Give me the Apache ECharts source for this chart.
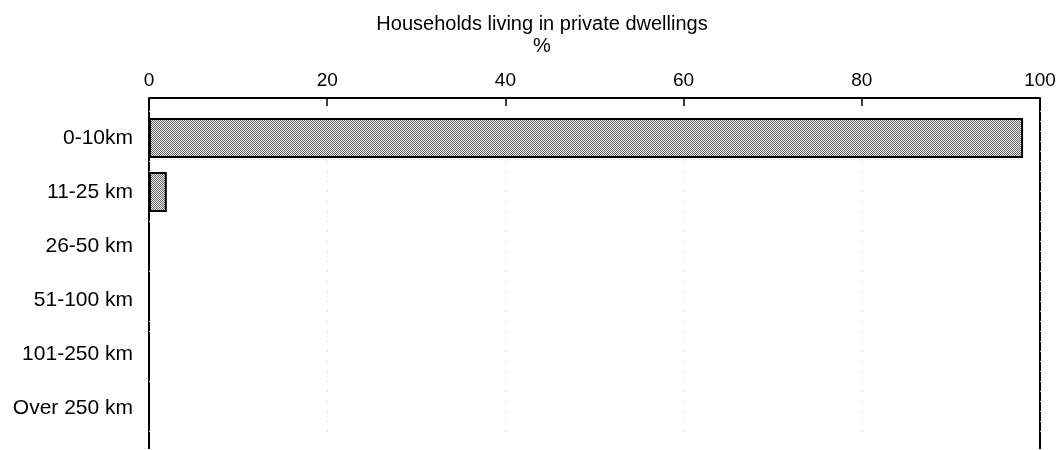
<!DOCTYPE html>
<html>
<head>
<meta charset="utf-8">
<script src="https://cdn.jsdelivr.net/npm/echarts@6/dist/echarts.min.js"></script>
<style>
html,body{margin:0;padding:0;background:#fff;}
#c{width:1062px;height:450px;}
</style>
</head>
<body>
<div id="c"></div>
<script>
var categories = ['0-10km', '11-25 km', '26-50 km', '51-100 km', '101-250 km', 'Over 250 km'];
var values = [98.1, 2.0, 0, 0, 0, 0];
var xTicks = [0, 20, 40, 60, 80, 100];
var titleText = 'Households living in private dwellings';
var unitText = '%';

var FONT = '"Liberation Sans", Arial, Helvetica, sans-serif';
var gridLeft = 149, gridRight = 22, gridTop = 111, gridHeight = 324;
var frameTop = 98, frameBottom = 449;

// stipple pattern for bars
var pc = document.createElement('canvas');
pc.width = 2; pc.height = 2;
var pctx = pc.getContext('2d');
pctx.fillStyle = '#ececec'; pctx.fillRect(0, 0, 2, 2);
pctx.fillStyle = '#6a6a6a'; pctx.fillRect(0, 0, 1, 1); pctx.fillRect(1, 1, 1, 1);

var chart = echarts.init(document.getElementById('c'), null, {renderer: 'canvas'});
var option = {
  backgroundColor: '#fff',
  animation: false,
  title: {
    text: titleText + '\n' + unitText,
    left: 537,
    top: 8,
    textAlign: 'center',
    textStyle: {fontFamily: FONT, fontSize: 20, fontWeight: 'normal', color: '#000', lineHeight: 22}
  },
  grid: {left: gridLeft, right: gridRight, top: gridTop, height: gridHeight},
  xAxis: {
    type: 'value',
    position: 'top',
    offset: gridTop - frameTop,
    min: xTicks[0],
    max: xTicks[xTicks.length - 1],
    interval: xTicks[1] - xTicks[0],
    axisLine: {show: true, lineStyle: {color: '#000', width: 2}},
    axisTick: {show: true, inside: true, length: 8, lineStyle: {color: '#000', width: 1.5}},
    axisLabel: {fontFamily: FONT, fontSize: 19, color: '#000', margin: 8},
    splitLine: {show: true, lineStyle: {color: '#d0d0d0', type: [1, 9], width: 1}}
  },
  yAxis: {
    type: 'category',
    data: categories,
    inverse: true,
    axisLine: {show: false},
    axisTick: {show: false},
    axisLabel: {fontFamily: FONT, fontSize: 21, color: '#000', margin: 16}
  },
  series: [{
    type: 'bar',
    data: values,
    barCategoryGap: '26%',
    itemStyle: {
      color: {image: pc, repeat: 'repeat'},
      borderColor: '#000',
      borderWidth: 2
    }
  }],
  graphic: [
    {type: 'line', shape: {x1: gridLeft, y1: frameTop, x2: gridLeft, y2: frameBottom}, style: {stroke: '#000', lineWidth: 2}},
    {type: 'line', shape: {x1: 1062 - gridRight, y1: frameTop, x2: 1062 - gridRight, y2: frameBottom}, style: {stroke: '#000', lineWidth: 2}}
  ]
};
chart.setOption(option);
</script>
</body>
</html>
